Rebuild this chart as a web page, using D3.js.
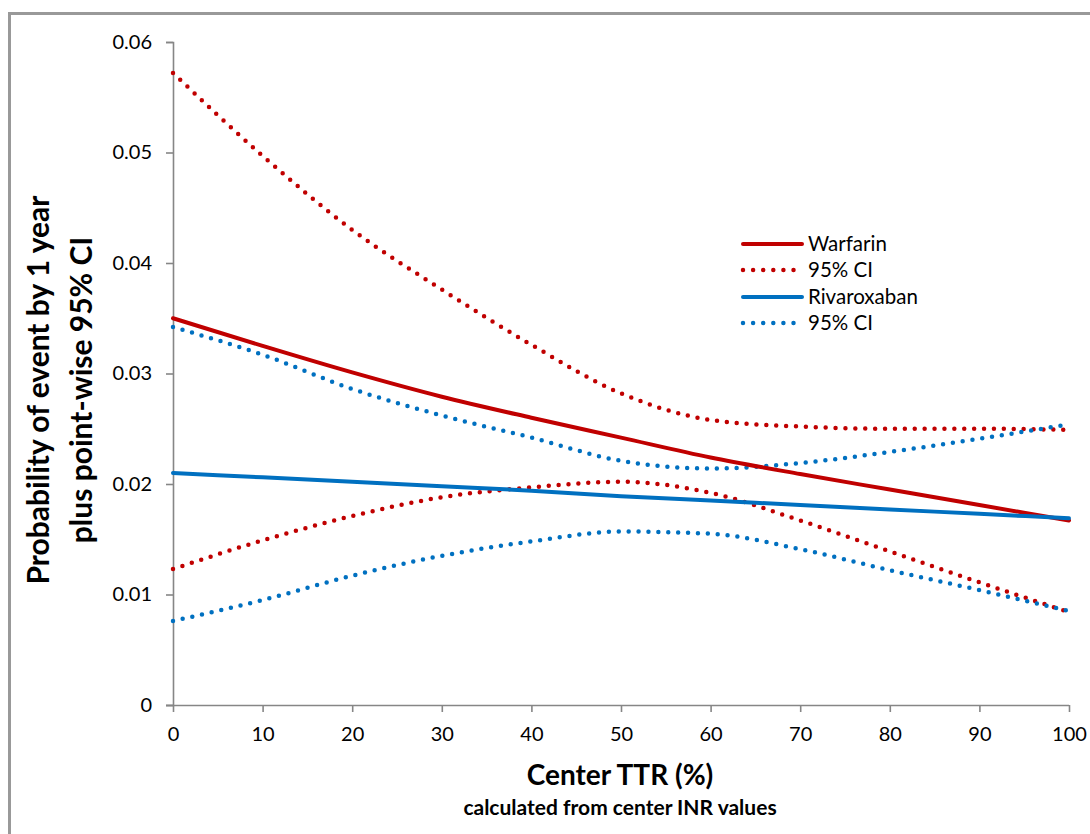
<!DOCTYPE html>
<html><head><meta charset="utf-8">
<script src="https://cdn.jsdelivr.net/npm/d3@7"></script>
<style>body{margin:0;background:#fff;} text{font-family:Lato, "Open Sans", sans-serif;}</style>
</head><body><svg id="c" width="1090" height="834"></svg>
<script>
const ttr = [0,10,20,30,40,50,60,70,80,90,100];
const warfarin   = [0.0350,0.0325,0.0301,0.0279,0.0260,0.0242,0.0224,0.0209,0.0195,0.0181,0.0167];
const warfUpper  = [0.0572,0.0497,0.0430,0.0376,0.0326,0.0282,0.0258,0.0252,0.0250,0.0250,0.0249];
const warfLower  = [0.0123,0.0149,0.0171,0.0188,0.0197,0.0202,0.0192,0.0167,0.0139,0.0111,0.0084];
const rivaroxaban= [0.0210,0.0206,0.0202,0.0198,0.0194,0.0189,0.0185,0.0181,0.0177,0.0173,0.0169];
const rivaUpper  = [0.0342,0.0317,0.0286,0.0262,0.0242,0.0221,0.0214,0.0219,0.0229,0.0241,0.0254];
const rivaLower  = [0.0076,0.0095,0.0117,0.0135,0.0148,0.0157,0.0155,0.0141,0.0122,0.0104,0.0085];
const yTicks = [0,0.01,0.02,0.03,0.04,0.05,0.06];
const yTickLabels = ["0","0.01","0.02","0.03","0.04","0.05","0.06"];
const xTicks = [0,10,20,30,40,50,60,70,80,90,100];
const legendLabels = ["Warfarin","95% CI","Rivaroxaban","95% CI"];

const RED="#C00000", BLUE="#0070C0", AX="#868686";
const FONT="Lato, 'Open Sans', sans-serif";
const svg = d3.select("#c");
// outer frame
svg.append("rect").attr("x",9.5).attr("y",13.5).attr("width",1200).attr("height",1000)
  .attr("fill","none").attr("stroke","#999").attr("stroke-width",3);

const x = d3.scaleLinear().domain([0,100]).range([173,1069]);
const y = d3.scaleLinear().domain([0,0.06]).range([705,42]);

const yAxis = svg.append("g").attr("transform","translate(173,0)")
  .call(d3.axisLeft(y).tickValues(yTicks).tickFormat((d,i)=>yTickLabels[i]).tickSize(7).tickPadding(14));
const xAxis = svg.append("g").attr("transform","translate(0,705)")
  .call(d3.axisBottom(x).tickValues(xTicks).tickFormat(d3.format("d")).tickSize(7).tickPadding(15));
[yAxis,xAxis].forEach(g=>{
  g.select(".domain").attr("stroke",AX).attr("stroke-width",1.6);
  g.selectAll(".tick line").attr("stroke",AX).attr("stroke-width",1.6);
  g.selectAll(".tick text").attr("fill","#000").style("font-size","20px").style("font-family",FONT);
});
xAxis.select(".domain").attr("d","M166,0.5H1069");

const line = d3.line().x((d,i)=>x(ttr[i])).y(d=>y(d)).curve(d3.curveMonotoneX);
function draw(data,color,dotted){
  const p = svg.append("path").attr("d",line(data)).attr("fill","none")
    .attr("stroke",color).attr("stroke-linecap","round");
  if(dotted) p.attr("stroke-width",4.5).attr("stroke-dasharray","0 9.9");
  else p.attr("stroke-width",4);
}
draw(warfUpper,RED,true);
draw(warfLower,RED,true);
draw(rivaUpper,BLUE,true);
draw(rivaLower,BLUE,true);
draw(warfarin,RED,false);
draw(rivaroxaban,BLUE,false);

// legend
const legY=[244,270,297,323];
const legC=[RED,RED,BLUE,BLUE], legD=[false,true,false,true];
legendLabels.forEach((t,i)=>{
  const l = svg.append("line").attr("x1",743).attr("x2",802).attr("y1",legY[i]).attr("y2",legY[i])
    .attr("stroke",legC[i]).attr("stroke-linecap","round");
  if(legD[i]) l.attr("stroke-width",4.5).attr("stroke-dasharray","0 10.1");
  else l.attr("stroke-width",4);
  svg.append("text").attr("x",808).attr("y",legY[i]+7).text(t).style("font-size","20.5px").attr("fill","#000");
});

// axis titles
svg.append("text").attr("x",620).attr("y",785).attr("text-anchor","middle")
  .style("font-size","28px").style("font-weight","bold").text("Center TTR (%)");
svg.append("text").attr("x",620).attr("y",815).attr("text-anchor","middle")
  .style("font-size","21px").style("font-weight","bold").text("calculated from center INR values");
const yt = svg.append("text").attr("transform","translate(0,390) rotate(-90)")
  .attr("text-anchor","middle").style("font-size","30px").style("font-weight","bold");
yt.append("tspan").attr("x",0).attr("y",49).text("Probability of event by 1 year");
yt.append("tspan").attr("x",0).attr("y",92).text("plus point-wise 95% CI");
</script></body></html>
